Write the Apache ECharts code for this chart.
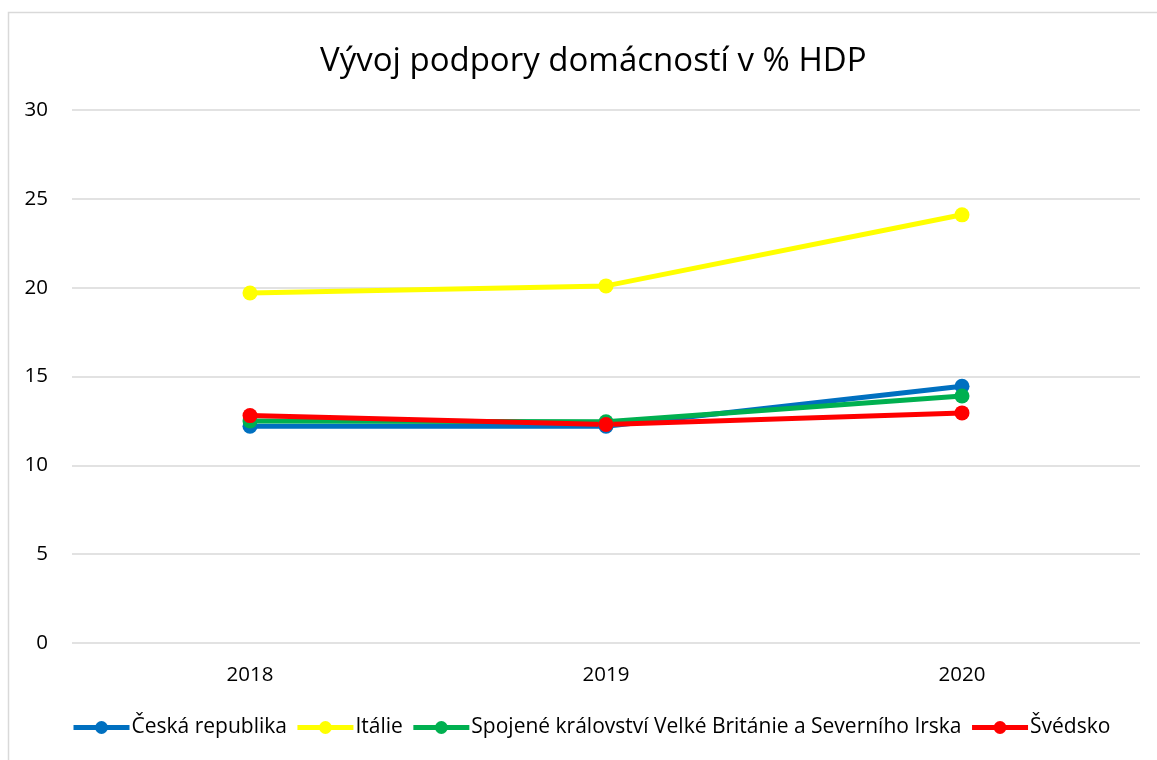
<!DOCTYPE html>
<html><head><meta charset="utf-8">
<script src="https://cdn.jsdelivr.net/npm/echarts@6/dist/echarts.min.js"></script>
<style>html,body{margin:0;padding:0;background:#fff}#c{width:1157px;height:760px}</style>
</head><body><div id="c"></div>
<script>
const categories = ['2018', '2019', '2020'];
const seriesNames = ['Česká republika', 'Itálie', 'Spojené království Velké Británie a Severního Irska', 'Švédsko'];
const ceskaRepublika = [12.2, 12.2, 14.45];
const italie = [19.7, 20.1, 24.1];
const spojeneKralovstvi = [12.5, 12.45, 13.9];
const svedsko = [12.8, 12.3, 12.95];
const colors = ['#0070C0', '#FFFF00', '#00B050', '#FF0000'];
const yTicks = { min: 0, max: 30, interval: 5 };

const allData = [ceskaRepublika, italie, spojeneKralovstvi, svedsko];
const FONT = 'Open Sans';
const chart = echarts.init(document.getElementById('c'));
chart.setOption({
  backgroundColor: '#fff',
  animation: false,
  title: { text: 'Vývoj podpory domácností v % HDP', left: 315, top: 40,
    textStyle: { fontFamily: FONT, fontSize: 33, fontWeight: 'normal', color: '#000' } },
  graphic: [{ type: 'rect', shape: { x: 8.5, y: 12.5, width: 1160, height: 760 },
    style: { fill: 'none', stroke: '#d9d9d9', lineWidth: 1.5 } }],
  legend: { bottom: 17, left: 66, itemWidth: 56, itemHeight: 16, itemGap: 8,
    lineStyle: { width: 5 },
    textStyle: { fontFamily: FONT, fontSize: 21, color: '#000', padding: [0, 0, 0, -3] },
    data: seriesNames },
  grid: { left: 72, right: 17, top: 110, bottom: 117 },
  xAxis: { type: 'category', data: categories, boundaryGap: true,
    axisLine: { show: false }, axisTick: { show: false },
    axisLabel: { fontFamily: FONT, fontSize: 20.5, color: '#000', margin: 22 } },
  yAxis: { type: 'value', min: yTicks.min, max: yTicks.max, interval: yTicks.interval,
    axisLine: { show: false }, axisTick: { show: false },
    axisLabel: { fontFamily: FONT, fontSize: 20.5, color: '#000', margin: 24 },
    splitLine: { lineStyle: { color: '#d9d9d9', width: 1.5 } } },
  series: seriesNames.map((n, i) => ({
    name: n, type: 'line', data: allData[i], color: colors[i],
    symbol: 'circle', symbolSize: 15,
    lineStyle: { width: 5, color: colors[i] },
    itemStyle: { color: colors[i] }
  }))
});
</script></body></html>
